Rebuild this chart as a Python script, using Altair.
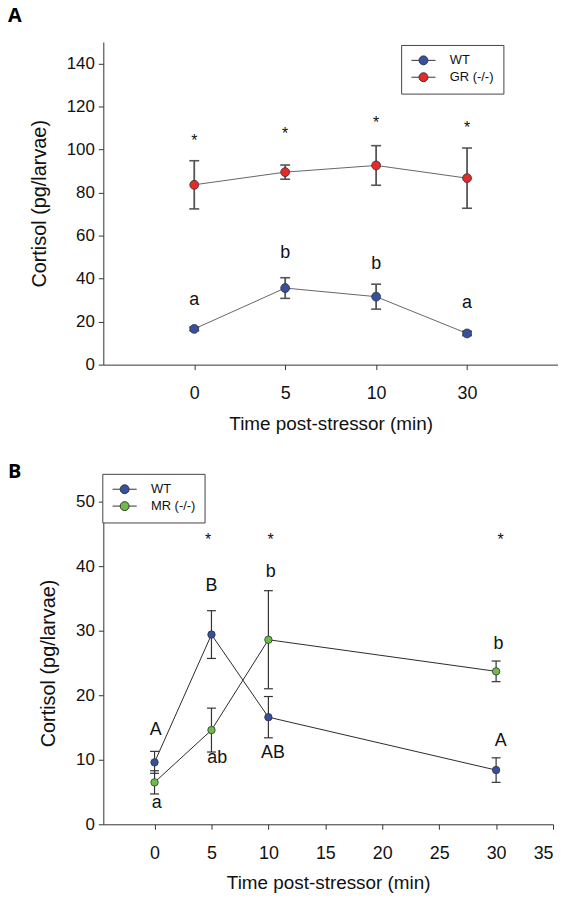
import altair as alt
import pandas as pd

# ---------------- data ----------------
A_times = ["0", "5", "10", "30"]
A_series = ["WT", "GR (-/-)"]
A_wt_mean = [16.6, 35.6, 31.6, 14.5]
A_wt_sem = [0.8, 4.8, 5.8, 1.0]
A_gr_mean = [83.6, 89.5, 92.6, 86.7]
A_gr_sem = [11.2, 3.3, 9.2, 14.0]
A_star_y = [105.9, 109.0, 114.0, 111.7]
A_letters = ["a", "b", "b", "a"]
A_letter_y = [29.9, 51.9, 46.9, 28.8]

B_times = [0, 5, 10, 30]
B_series = ["WT", "MR (-/-)"]
B_wt_mean = [9.6, 29.4, 16.6, 8.4]
B_wt_sem = [1.7, 3.7, 3.2, 1.9]
B_mr_mean = [6.5, 14.6, 28.6, 23.7]
B_mr_sem = [1.8, 3.4, 7.6, 1.6]
B_star_x = [4.7, 10.2, 30.4]
B_star_y = [44.6, 44.6, 44.6]
B_letters = ["A", "a", "B", "ab", "b", "AB", "b", "A"]
B_letter_x = [0.1, 0.2, 5.0, 5.5, 10.2, 10.4, 30.2, 30.4]
B_letter_y = [14.6, 3.3, 36.9, 10.3, 39.1, 11.0, 28.0, 12.9]

BLUE = "#34509f"
RED = "#e52a2a"
GREEN = "#6cbd45"
FONT = "Liberation Sans"
TXT = "#111111"
SYMBOL = "M-2.7,0L-1,0M1,0L2.7,0M-1,0A1,1,0,1,1,1,0A1,1,0,1,1,-1,0Z"


def series_frame(times, names, means, sems):
    rows = []
    for name, m, s in zip(names, means, sems):
        for t, mv, sv in zip(times, m, s):
            rows.append({"time": t, "series": name, "mean": mv,
                         "lo": mv - sv, "hi": mv + sv})
    return pd.DataFrame(rows)


dfA = series_frame(A_times, A_series, [A_wt_mean, A_gr_mean], [A_wt_sem, A_gr_sem])
starsA = pd.DataFrame({"time": A_times, "y": A_star_y})
lettersA = pd.DataFrame({"time": A_times, "y": A_letter_y, "label": A_letters})

dfB = series_frame(B_times, B_series, [B_wt_mean, B_mr_mean], [B_wt_sem, B_mr_sem])
starsB = pd.DataFrame({"time": B_star_x, "y": B_star_y})
lettersB = pd.DataFrame({"time": B_letter_x, "y": B_letter_y, "label": B_letters})

YT = "Cortisol (pg/larvae)"
XT = "Time post-stressor (min)"


def legend(x, y):
    return alt.Legend(title=None, orient="none", legendX=x, legendY=y,
                      symbolType=SYMBOL, symbolSize=81, symbolStrokeColor="#333",
                      symbolStrokeWidth=1, symbolOffset=7, labelOffset=20,
                      padding=9, rowPadding=3, strokeColor="#444",
                      fillColor="white", labelFont=FONT, labelFontSize=13,
                      labelColor=TXT)


def panel_title(t, offset, dy):
    return alt.TitleParams(text=t, anchor="start", frame="group", dx=-96,
                           dy=dy, offset=offset, baseline="alphabetic",
                           font="Open Sans", fontSize=20, fontWeight="bold",
                           color="black")


# ---------------- panel A ----------------
xA = dict(shorthand="time:N", sort=A_times, title=XT,
          scale=alt.Scale(type="point", padding=1),
          axis=alt.Axis(labelAngle=0))
ysA = alt.Scale(domain=[0, 150], nice=False)
yaxA = alt.Axis(values=list(range(0, 141, 20)))

baseA = alt.Chart(dfA)
lineA = baseA.mark_line(color="#666", strokeWidth=1).encode(
    x=alt.X(**xA), y=alt.Y("mean:Q", scale=ysA, axis=yaxA, title=YT),
    detail="series:N")
ruleA = baseA.mark_rule(color="#555", strokeWidth=1.8).encode(
    x=alt.X(**xA), y=alt.Y("lo:Q", title=YT), y2="hi:Q")
capLoA = baseA.mark_tick(color="#555", size=10, thickness=1.6, opacity=1,
                         orient="horizontal").encode(
    x=alt.X(**xA), y=alt.Y("lo:Q", title=YT))
capHiA = baseA.mark_tick(color="#555", size=10, thickness=1.6, opacity=1,
                         orient="horizontal").encode(
    x=alt.X(**xA), y=alt.Y("hi:Q", title=YT))
ptA = baseA.mark_circle(size=80, stroke="#333", strokeWidth=0.8, opacity=1).encode(
    x=alt.X(**xA), y=alt.Y("mean:Q", title=YT),
    fill=alt.Fill("series:N", scale=alt.Scale(domain=A_series, range=[BLUE, RED]),
                  legend=legend(300, 3)))
starA = alt.Chart(starsA).mark_text(font=FONT, fontSize=16, baseline="alphabetic",
                                    dy=9, color=TXT).encode(
    x=alt.X(**xA), y=alt.Y("y:Q", title=YT), text=alt.value("*"))
letA = alt.Chart(lettersA).mark_text(font=FONT, fontSize=18, baseline="middle",
                                     color=TXT).encode(
    x=alt.X(**xA), y=alt.Y("y:Q", title=YT), text="label:N")

chartA = alt.layer(lineA, ruleA, capLoA, capHiA, ptA, starA, letA).properties(
    width=458, height=325, title=panel_title("A", 0, 0))

# ---------------- panel B ----------------
xB = dict(shorthand="time:Q", title=XT,
          scale=alt.Scale(domain=[-4.5, 35], nice=False, zero=False),
          axis=alt.Axis(values=list(range(0, 36, 5))))
ysB = alt.Scale(domain=[0, 50], nice=False)
yaxB = alt.Axis(values=list(range(0, 51, 10)))

baseB = alt.Chart(dfB)
lineB = baseB.mark_line(color="#2a2a2a", strokeWidth=1).encode(
    x=alt.X(**xB), y=alt.Y("mean:Q", scale=ysB, axis=yaxB, title=YT),
    detail="series:N")
ruleB = baseB.mark_rule(color="#333", strokeWidth=1.2).encode(
    x=alt.X(**xB), y=alt.Y("lo:Q", title=YT), y2="hi:Q")
capLoB = baseB.mark_tick(color="#333", size=9, thickness=1.2, opacity=1,
                         orient="horizontal").encode(
    x=alt.X(**xB), y=alt.Y("lo:Q", title=YT))
capHiB = baseB.mark_tick(color="#333", size=9, thickness=1.2, opacity=1,
                         orient="horizontal").encode(
    x=alt.X(**xB), y=alt.Y("hi:Q", title=YT))
ptB = baseB.mark_circle(size=56, stroke="#333", strokeWidth=0.8, opacity=1).encode(
    x=alt.X(**xB), y=alt.Y("mean:Q", title=YT),
    fill=alt.Fill("series:N", scale=alt.Scale(domain=B_series, range=[BLUE, GREEN]),
                  legend=legend(-1, -28)))
starB = alt.Chart(starsB).mark_text(font=FONT, fontSize=16, baseline="alphabetic",
                                    dy=9, color=TXT).encode(
    x=alt.X(**xB), y=alt.Y("y:Q", title=YT), text=alt.value("*"))
letB = alt.Chart(lettersB).mark_text(font=FONT, fontSize=18, baseline="middle",
                                     color=TXT).encode(
    x=alt.X(**xB), y=alt.Y("y:Q", title=YT), text="label:N")

chartB = alt.layer(lineB, ruleB, capLoB, capHiB, ptB, starB, letB).properties(
    width=453, height=325, title=panel_title("B", 0, 25))

chart = alt.vconcat(chartA, chartB, spacing=29).resolve_scale(
    x="independent", y="independent", fill="independent"
).resolve_legend(fill="independent").properties(
    padding={"top": -5, "left": 0, "right": 0, "bottom": 0}
).configure_view(
    stroke=None
).configure_axis(
    grid=False, domainColor="#333", tickColor="#333", tickSize=5,
    labelFont=FONT, titleFont=FONT, labelColor=TXT, titleColor=TXT,
    titleFontWeight="normal", labelFontSize=17, titleFontSize=20
).configure_axisX(
    labelFontSize=18, labelPadding=15, titlePadding=12, titleFontSize=19
).configure_axisY(
    labelPadding=4, titlePadding=17, titleFontSize=20
)

chart.save("out.html", embed_options={"renderer": "svg", "actions": False})
